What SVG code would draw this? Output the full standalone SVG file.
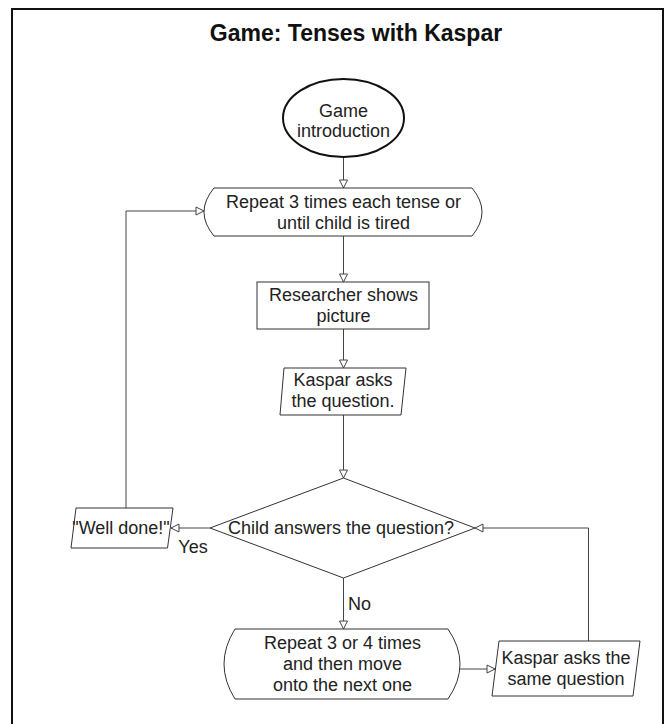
<svg xmlns="http://www.w3.org/2000/svg" width="665" height="724" viewBox="0 0 665 724">
<style>
.t{font-family:"Liberation Sans",Arial,sans-serif;font-size:18px;fill:#222;text-anchor:middle}
.s{fill:#fff;stroke:#333;stroke-width:1}
.c{fill:none;stroke:#444;stroke-width:1}
</style>
<defs>
<marker id="a" markerUnits="userSpaceOnUse" markerWidth="12" markerHeight="12" refX="9" refY="5" orient="auto">
<path d="M1,1 L9,5 L1,9 Z" fill="#fff" stroke="#444" stroke-width="1"/>
</marker>
</defs>
<rect width="665" height="724" fill="#fff"/>
<rect x="12" y="9" width="651" height="740" fill="none" stroke="#111" stroke-width="2"/>
<text x="356" y="41" font-family="Liberation Sans,Arial,sans-serif" font-size="23" font-weight="bold" text-anchor="middle" fill="#111">Game: Tenses with Kaspar</text>
<g id="connectors">
<path class="c" d="M343.5,157 V188" marker-end="url(#a)"/>
<path class="c" d="M343.5,236 V282" marker-end="url(#a)"/>
<path class="c" d="M343.5,329 V368" marker-end="url(#a)"/>
<path class="c" d="M343.5,415 V478" marker-end="url(#a)"/>
<path class="c" d="M210,528 H171" marker-end="url(#a)"/>
<path class="c" d="M126,508 V211 H204" marker-end="url(#a)"/>
<path class="c" d="M343.5,578 V629" marker-end="url(#a)"/>
<path class="c" d="M460,669 H495" marker-end="url(#a)"/>
<path class="c" d="M588.5,641 V528 H475" marker-end="url(#a)"/>
<text class="t" x="193" y="553">Yes</text>
<text class="t" x="348" y="610" text-anchor="start" style="text-anchor:start">No</text>
</g>
<g id="start">
<ellipse cx="343.5" cy="118" rx="60.5" ry="39" fill="#fff" stroke="#111" stroke-width="2"/>
<text class="t" x="343.5" y="117">Game</text>
<text class="t" x="343.5" y="137">introduction</text>
</g>
<g id="loop">
<path class="s" d="M214,188 L472,188 Q492,212 472,236 L214,236 Q194,212 214,188 Z"/>
<text class="t" x="343.5" y="208">Repeat 3 times each tense or</text>
<text class="t" x="343.5" y="229">until child is tired</text>
</g>
<g id="researcher">
<rect class="s" x="257" y="282" width="172" height="47"/>
<text class="t" x="343.5" y="301">Researcher shows</text>
<text class="t" x="343.5" y="322">picture</text>
</g>
<g id="kaspar1">
<path class="s" d="M284,368 L406,368 L401,415 L280,415 Z"/>
<text class="t" x="343" y="386">Kaspar asks</text>
<text class="t" x="343" y="407">the question.</text>
</g>
<g id="decision">
<path class="s" d="M343.5,478 L475,528 L343.5,578 L210,528 Z"/>
<text class="t" x="341" y="534">Child answers the question?</text>
</g>
<g id="welldone">
<path class="s" d="M76,508 L173,508 L167.5,548 L71,548 Z"/>
<text class="t" x="121" y="534">"Well done!"</text>
</g>
<g id="repeat2">
<path class="s" d="M235,629 L448,629 Q472,664 448,699 L235,699 Q213,664 235,629 Z"/>
<text class="t" x="342.5" y="649">Repeat 3 or 4 times</text>
<text class="t" x="342.5" y="670">and then move</text>
<text class="t" x="342.5" y="691">onto the next one</text>
</g>
<g id="kaspar2">
<path class="s" d="M499,641 L640,641 L633,696 L492,696 Z"/>
<text class="t" x="566" y="664">Kaspar asks the</text>
<text class="t" x="566" y="685">same question</text>
</g>
</svg>
